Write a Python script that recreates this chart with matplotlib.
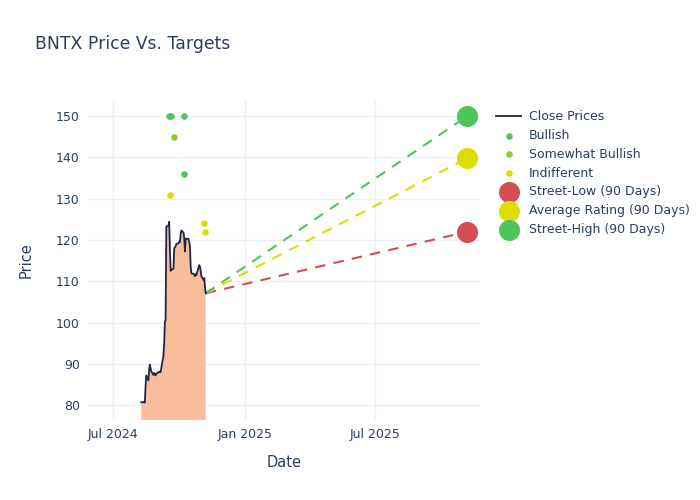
import matplotlib
matplotlib.use("Agg")
import matplotlib.pyplot as plt
import matplotlib.dates as mdates
import pandas as pd

# Close prices (business days)
close_dates = pd.bdate_range("2024-08-09", "2024-11-07")
close_prices = [
    80.7,
    80.7, 80.8, 80.6, 84.5, 87.2,
    86.0, 88.5, 89.8, 89.0, 88.2,
    87.3, 87.8, 87.5, 87.2, 87.6,
    88.0, 87.9, 88.1, 88.0, 89.0,
    92.0, 95.0, 100.2, 100.5, 123.2,
    123.5, 124.4, 118.0, 112.5, 112.8,
    113.0, 118.0, 118.2, 118.5, 119.0,
    119.2, 119.6, 119.5, 121.5, 122.3,
    121.8, 120.5, 117.2, 120.2, 120.3,
    120.3, 119.5, 118.5, 113.5, 111.9,
    111.8, 111.6, 111.2, 111.7, 111.5,
    113.4, 113.9, 113.5, 112.5, 111.2,
    110.3, 110.8, 108.5, 107.1,
]

# Analyst ratings
bullish_dates = pd.to_datetime(["2024-09-17", "2024-09-19", "2024-10-08", "2024-10-08"])
bullish_prices = [150, 150, 150, 136]
somewhat_dates = pd.to_datetime(["2024-09-24"])
somewhat_prices = [145]
indiff_dates = pd.to_datetime(["2024-09-18", "2024-11-04", "2024-11-06"])
indiff_prices = [131, 124, 122]

# 90 day targets
target_date = pd.Timestamp("2025-11-07")
street_low = 122
average_rating = 139.8
street_high = 150

text_color = "#2a3f5f"
grid_color = "#ebf0f8"
green = "#4fc45b"
red = "#d64c55"
yellow = "#dddd00"
light_green = "#8ccb2e"

fig = plt.figure(figsize=(7, 5), dpi=100)
ax = fig.add_axes([0.126, 0.16, 0.56, 0.64])

ax.fill_between(close_dates, close_prices, 0, color="#fabd9b", linewidth=0, zorder=1)
ax.plot(close_dates, close_prices, color="#1f2744", linewidth=1.3, label="Close Prices", zorder=3)

ax.scatter(bullish_dates, bullish_prices, s=22, color=green, label="Bullish", zorder=4, linewidths=0)
ax.scatter(somewhat_dates, somewhat_prices, s=22, color=light_green, label="Somewhat Bullish", zorder=4, linewidths=0)
ax.scatter(indiff_dates, indiff_prices, s=22, color=yellow, label="Indifferent", zorder=4, linewidths=0)

last_date = close_dates[-1]
last_price = close_prices[-1]
for value, col in [(street_low, red), (average_rating, yellow), (street_high, green)]:
    ax.plot([last_date, target_date], [last_price, value], color=col, linestyle=(0, (5, 4)),
            linewidth=1.5, zorder=2)

ax.scatter([target_date], [street_low], s=230, color=red, label="Street-Low (90 Days)", zorder=5, linewidths=0)
ax.scatter([target_date], [average_rating], s=230, color=yellow, label="Average Rating (90 Days)", zorder=5, linewidths=0)
ax.scatter([target_date], [street_high], s=230, color=green, label="Street-High (90 Days)", zorder=5, linewidths=0)

ax.set_xlim(pd.Timestamp("2024-05-27"), pd.Timestamp("2025-11-25"))
ax.set_ylim(76.4, 153.9)
ax.set_yticks([80, 90, 100, 110, 120, 130, 140, 150])
ax.set_xticks(pd.to_datetime(["2024-07-01", "2025-01-01", "2025-07-01"]))
ax.xaxis.set_major_formatter(mdates.DateFormatter("%b %Y"))

ax.grid(True, color=grid_color, linewidth=1)
ax.set_axisbelow(True)
for s in ax.spines.values():
    s.set_visible(False)
ax.tick_params(length=0, labelsize=9, colors=text_color, pad=6)

ax.set_xlabel("Date", fontsize=10.5, color=text_color, labelpad=10)
ax.set_ylabel("Price", fontsize=10.5, color=text_color, labelpad=16)

fig.text(0.05, 0.912, "BNTX Price Vs. Targets", fontsize=12.4, color=text_color, va="center")

leg = ax.legend(loc="upper left", bbox_to_anchor=(1.015, 1.0), frameon=False, fontsize=9,
                labelcolor=text_color, handlelength=2.0, handletextpad=0.6,
                labelspacing=0.47, scatterpoints=1, borderaxespad=0.4)

fig.savefig("out.png", dpi=100)
